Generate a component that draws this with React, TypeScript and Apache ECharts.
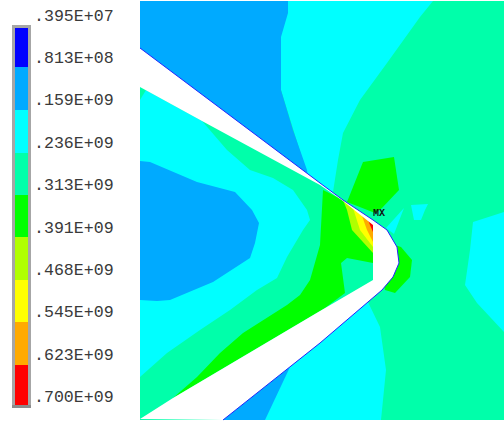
import React, { useEffect, useRef } from "react";
import * as echarts from "echarts";

const levelColors = ["#0000ff", "#00aaff", "#00ffff", "#00ffaa", "#00ff00", "#b0ff00", "#ffff00", "#ffaa00", "#ff0000"];
const levelLabels = [".395E+07", ".813E+08", ".159E+09", ".236E+09", ".313E+09", ".391E+09", ".468E+09", ".545E+09", ".623E+09", ".700E+09"];
const labelRows = [16, 58, 100, 143, 185, 228, 270, 312, 355, 397];
const bandEdges = [28, 67, 110, 153, 195, 237, 280, 322, 365, 405];
const barFrame = [[12, 25], [31, 25], [31, 408], [12, 408]];
const barFoot = [[12, 405], [31, 405], [31, 408], [12, 408]];
const barCols = [15, 28];

const SEA = 3, CYAN = 2, SKY = 1, GREEN = 4, LIME = 5, YEL = 6, ORG = 7, RED = 8;

const field = [[140, 1], [504, 1], [504, 420], [140, 420]];
const cyanTop = [[281, 1], [433, 1], [420, 17], [387, 63], [360, 100], [343, 133], [338, 160], [333, 192], [308, 177], [281, 90]];
const skyTop = [[140, 1], [288, 1], [288, 13], [281, 37], [281, 90], [293, 130], [307, 170], [308, 177], [140, 48]];
const cyanLeft = [[140, 87], [202, 121], [227, 150], [250, 170], [273, 178], [293, 190], [307, 210], [310, 220], [303, 230], [287, 257], [277, 278], [257, 290], [230, 310], [200, 330], [167, 353], [140, 377]];
const seaTip = [[140, 87], [146, 90], [140, 100]];
const skyLeft = [[140, 161], [150, 162], [197, 182], [235, 192], [252, 210], [259, 223], [255, 243], [250, 258], [213, 282], [170, 300], [157, 301], [140, 300]];
const greenBand = [[323, 190], [343, 200], [373, 225], [373, 263], [347, 258], [341, 263], [345, 293], [325, 308], [320, 311], [173, 398], [197, 377], [220, 353], [243, 333], [287, 305], [300, 295], [310, 280], [320, 245]];
const greenTop = [[363, 162], [394, 157], [399, 190], [382, 208], [375, 213], [347, 202]];
const greenRight = [[395, 245], [401, 247], [412, 260], [410, 277], [395, 293], [385, 290], [380, 270]];
const limePatch = [[343, 200], [347, 210], [352, 230], [373, 253], [373, 222]];
const yellowPatch = [[353, 208], [360, 230], [373, 247], [373, 222]];
const orangePatch = [[361, 213], [367, 230], [373, 242], [373, 222]];
const redPatch = [[367, 217], [370, 225], [373, 232], [373, 222]];
const cyanWedge = [[404, 208], [386, 228], [394, 234]];
const cyanSpot = [[411, 205], [428, 204], [425, 210], [421, 220], [414, 220]];
const cyanRight = [[504, 212], [473, 222], [470, 250], [465, 285], [477, 303], [504, 332]];
const cyanBottom = [[320, 343], [367, 300], [380, 327], [386, 370], [381, 420], [223, 420]];
const skyBottom = [[290, 367], [265, 420], [223, 420]];
const outerEdge = [[140, 48], [320, 183], [343, 200], [373, 220], [387, 230], [397, 247], [399, 263], [393, 277], [382, 290], [320, 343], [223, 420]];
const innerEdge = [[140, 419], [173, 398], [320, 311], [373, 280], [373, 225], [343, 201], [320, 185], [202, 121], [140, 87]];

const regions: [number[][], string][] = [
  [field, levelColors[SEA]],
  [cyanTop, levelColors[CYAN]],
  [skyTop, levelColors[SKY]],
  [cyanLeft, levelColors[CYAN]],
  [seaTip, levelColors[SEA]],
  [skyLeft, levelColors[SKY]],
  [cyanRight, levelColors[CYAN]],
  [cyanBottom, levelColors[CYAN]],
  [skyBottom, levelColors[SKY]],
  [greenBand, levelColors[GREEN]],
  [greenTop, levelColors[GREEN]],
  [greenRight, levelColors[GREEN]],
  [cyanWedge, levelColors[CYAN]],
  [cyanSpot, levelColors[CYAN]],
  [limePatch, levelColors[LIME]],
  [yellowPatch, levelColors[YEL]],
  [orangePatch, levelColors[ORG]],
  [redPatch, levelColors[RED]],
  [outerEdge.concat(innerEdge), "#ffffff"],
];

const frameParts: [number[][], string][] = [
  [barFrame, "#a6a6a6"],
  [barFoot, "#8c8c8c"],
];

const markerText = "MX";
const markerPoint = [373, 213];

export default function App() {
  const ref = useRef<HTMLDivElement>(null);
  useEffect(() => {
    document.body.style.margin = "0";
    document.body.style.background = "#ffffff";
    const chart = echarts.init(ref.current!, null, { renderer: "svg" });
    const pts = (api: any, list: number[][]) => list.map((p) => api.coord(p));
    chart.setOption({
      animation: false,
      backgroundColor: "#ffffff",
      grid: { left: 0, right: 0, top: 0, bottom: 0 },
      xAxis: { type: "value", min: 0, max: 504, show: false },
      yAxis: { type: "value", min: 0, max: 425, inverse: true, show: false },
      series: [
        {
          type: "custom",
          clip: false,
          silent: true,
          data: regions.map((_, i) => [i]),
          renderItem: (_p: any, api: any) => {
            const [list, color] = regions[api.value(0)];
            return { type: "polygon", shape: { points: pts(api, list) }, style: { fill: color, stroke: null } };
          },
        },
        {
          type: "custom",
          clip: false,
          silent: true,
          data: [[0]],
          renderItem: (_p: any, api: any) => ({
            type: "polyline",
            shape: { points: pts(api, outerEdge) },
            style: { fill: null, stroke: "#2222ff", lineWidth: 1 },
          }),
        },
        {
          type: "custom",
          clip: false,
          silent: true,
          data: frameParts.map((_, i) => [i]),
          renderItem: (_p: any, api: any) => {
            const [list, color] = frameParts[api.value(0)];
            return { type: "polygon", shape: { points: pts(api, list) }, style: { fill: color, stroke: null } };
          },
        },
        {
          type: "custom",
          clip: false,
          silent: true,
          data: levelColors.map((_, i) => [i]),
          renderItem: (_p: any, api: any) => {
            const i = api.value(0);
            const a = api.coord([barCols[0], bandEdges[i]]);
            const b = api.coord([barCols[1], bandEdges[i + 1]]);
            return {
              type: "rect",
              shape: { x: a[0], y: a[1], width: b[0] - a[0], height: b[1] - a[1] },
              style: { fill: levelColors[i], stroke: null },
            };
          },
        },
        {
          type: "custom",
          clip: false,
          silent: true,
          data: levelLabels.map((_, i) => [i]),
          renderItem: (_p: any, api: any) => {
            const i = api.value(0);
            const c = api.coord([34, labelRows[i]]);
            return {
              type: "text",
              x: c[0],
              y: c[1],
              style: {
                text: levelLabels[i],
                fill: "#3a3a3a",
                font: '16.6px "Liberation Mono"',
                textAlign: "left",
                textVerticalAlign: "middle",
              },
            };
          },
        },
        {
          type: "custom",
          clip: false,
          silent: true,
          data: [[0]],
          renderItem: (_p: any, api: any) => {
            const c = api.coord(markerPoint);
            return {
              type: "text",
              x: c[0],
              y: c[1],
              style: {
                text: markerText,
                fill: "#111111",
                font: 'bold 10px "Liberation Mono"',
                textAlign: "left",
                textVerticalAlign: "middle",
              },
            };
          },
        },
      ],
    });
    return () => chart.dispose();
  }, []);
  return <div ref={ref} style={{ width: 504, height: 425 }} />;
}
